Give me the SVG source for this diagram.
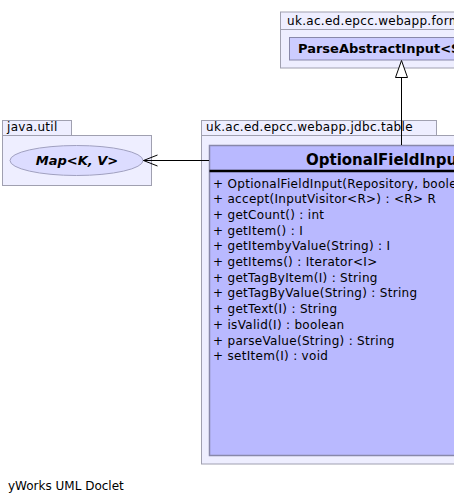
<svg xmlns="http://www.w3.org/2000/svg" width="454" height="502" viewBox="0 0 454 502">
<defs>
<style>
.pkg{fill:#eeeeff;stroke:#a0a0b0;stroke-width:1}
.tab{fill:#eeeeff;stroke:#a0a0b0;stroke-width:1}
.ptxt{font-family:"DejaVu Sans",sans-serif;font-size:12px;letter-spacing:0.3px;fill:#000}
.cls{fill:#b9b9ff;stroke:#8888aa;stroke-width:1.5}
.cls2{fill:#ccccff;stroke:#8888aa;stroke-width:1}
.ctitle{font-family:"DejaVu Sans",sans-serif;font-weight:bold;fill:#000}
.mem{font-family:"DejaVu Sans",sans-serif;font-size:12px;letter-spacing:0.3px;fill:#000}
.edge{stroke:#000;stroke-width:1;fill:none}
</style>
</defs>
<rect width="454" height="502" fill="#ffffff"/>
<g id="pkg-form">
<rect class="pkg" x="280.5" y="29.5" width="200" height="38.5"/>
<rect class="tab" x="280.5" y="12" width="200" height="17.5"/>
<text class="ptxt" x="287" y="25">uk.ac.ed.epcc.webapp.form</text>
<rect class="cls2" x="289.5" y="37.5" width="200" height="22.5"/>
<text class="ctitle" x="298" y="53" font-size="13px">ParseAbstractInput&lt;S&gt;</text>
</g>
<g id="pkg-util">
<rect class="pkg" x="2.5" y="135.5" width="149" height="50"/>
<rect class="tab" x="2.5" y="120.5" width="69" height="15"/>
<text class="ptxt" x="7" y="131">java.util</text>
<ellipse cx="76.5" cy="160.5" rx="66.5" ry="15" fill="#dcdcff" stroke="#a0a0c0" stroke-width="1"/>
<text class="ctitle" x="77" y="165" font-size="13px" font-style="italic" text-anchor="middle">Map&lt;K, V&gt;</text>
</g>
<g id="pkg-table">
<rect class="pkg" x="201.5" y="135.5" width="300" height="328.5"/>
<rect class="tab" x="201.5" y="120.5" width="235" height="15"/>
<text class="ptxt" x="206" y="131">uk.ac.ed.epcc.webapp.jdbc.table</text>
</g>
<g id="OptionalFieldInput">
<rect class="cls" x="209.5" y="145.5" width="400" height="310"/>
<line x1="209.5" y1="171" x2="454" y2="171" stroke="#000" stroke-width="2.5"/>
<text class="ctitle" x="306" y="165" font-size="15px">OptionalFieldInput</text>
<text class="mem" x="213" y="187.5">+ OptionalFieldInput(Repository, boolean)</text>
<text class="mem" x="213" y="203.2">+ accept(InputVisitor&lt;R&gt;) : &lt;R&gt; R</text>
<text class="mem" x="213" y="218.9">+ getCount() : int</text>
<text class="mem" x="213" y="234.6">+ getItem() : I</text>
<text class="mem" x="213" y="250.3">+ getItembyValue(String) : I</text>
<text class="mem" x="213" y="266">+ getItems() : Iterator&lt;I&gt;</text>
<text class="mem" x="213" y="281.7">+ getTagByItem(I) : String</text>
<text class="mem" x="213" y="297.4">+ getTagByValue(String) : String</text>
<text class="mem" x="213" y="313.1">+ getText(I) : String</text>
<text class="mem" x="213" y="328.8">+ isValid(I) : boolean</text>
<text class="mem" x="213" y="344.5">+ parseValue(String) : String</text>
<text class="mem" x="213" y="360.2">+ setItem(I) : void</text>
</g>
<g id="connectors">
<line class="edge" x1="401.5" y1="145" x2="401.5" y2="77.5"/>
<polygon points="401.5,60.5 395.5,77.5 407.5,77.5" fill="#ffffff" stroke="#000" stroke-width="1"/>
<line class="edge" x1="209" y1="160.5" x2="143.5" y2="160.5"/>
<polyline class="edge" points="157.5,155 143.5,160.5 157.5,166"/>
</g>
<text class="ptxt" x="8" y="490" style="letter-spacing:0">yWorks UML Doclet</text>
</svg>
